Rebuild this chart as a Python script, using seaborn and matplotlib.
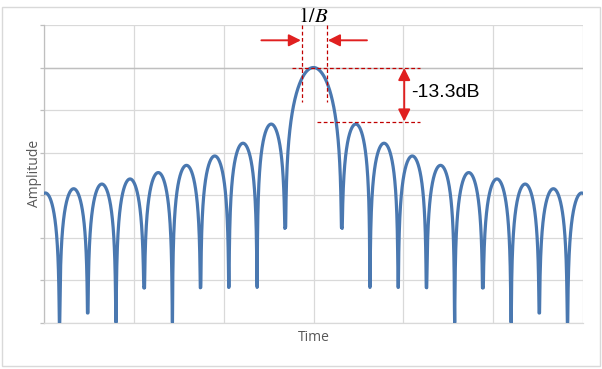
import numpy as np
import pandas as pd
import matplotlib
matplotlib.use("Agg")
import matplotlib.pyplot as plt
import seaborn as sns
from matplotlib.patches import Rectangle

# nulls of the compressed pulse (right half, left half is a mirror)
null_time = [3.14, 6.28, 9.42, 12.57, 15.71, 18.85, 21.99, 25.13, 28.27, 31.42]
null_db = [-37.6, -51.7, -51.7, -51.7, -60.0, -51.7, -60.0, -57.7, -60.0, -60.0]
# peak of each side lobe between two nulls, going outward
sidelobe_db = [-13.3, -17.8, -20.8, -23.0, -24.7, -26.2, -27.4, -28.5, -29.5]
mainlobe_db = 0.0

x_ticks = [-30, -20, -10, 0, 10, 20, 30]
y_ticks = [10, 0, -10, -20, -30, -40, -50, -60]

blue = "#4A78B0"
red = "#E02020"
dark_red = "#C00000"


def lobe(t0, t1, peak, d0, d1, n=300):
    # one arch between two nulls, held at the null depth seen on the chart
    u = np.linspace(0, 1, n)
    arch = 20 * np.log10(np.clip(np.sin(np.pi * u), 1e-9, None))
    floor = d0 + (d1 - d0) * u
    return t0 + (t1 - t0) * u, np.maximum(peak + arch, floor)


# main lobe
u = np.linspace(-1, 1, 600)
main_t = u * null_time[0]
main_db = np.maximum(mainlobe_db + 20 * np.log10(np.clip(np.abs(np.sinc(u)), 1e-9, None)), null_db[0])

right_t, right_db = [], []
for i, peak in enumerate(sidelobe_db):
    t, d = lobe(null_time[i], null_time[i + 1], peak, null_db[i], null_db[i + 1])
    right_t.append(t)
    right_db.append(d)
right_t = np.concatenate(right_t)
right_db = np.concatenate(right_db)

df = pd.DataFrame({
    "Time": np.concatenate([-right_t[::-1], main_t, right_t]),
    "Amplitude": np.concatenate([right_db[::-1], main_db, right_db]),
})

sns.set_theme(style="whitegrid")
plt.rcParams["font.family"] = ["Open Sans", "DejaVu Sans"]
plt.rcParams["mathtext.fontset"] = "stix"

fig = plt.figure(figsize=(6.02, 3.69), dpi=100)
ax = fig.add_axes([44 / 602, 1 - 322.7 / 369, 539 / 602, 297.7 / 369])

ax.axhline(0, color="#BFBFBF", lw=1.0, zorder=0.6)
sns.lineplot(data=df, x="Time", y="Amplitude", sort=False, estimator=None,
             color=blue, lw=2.3, ax=ax, zorder=3,
             solid_capstyle="round", solid_joinstyle="round")

ax.set_xlim(-30, 30)
ax.set_ylim(-60, 10)
ax.set_xticks(x_ticks)
ax.set_yticks(y_ticks)
ax.grid(True, color="#D9D9D9", lw=0.9)
ax.tick_params(axis="both", labelleft=False, labelbottom=False)
ax.tick_params(axis="y", left=True, length=3, color="#BFBFBF", width=0.9)
ax.tick_params(axis="x", bottom=False)
for side in ["top", "right"]:
    ax.spines[side].set_visible(False)
ax.spines["left"].set_color("#BFBFBF")
ax.spines["bottom"].set_color("#D9D9D9")
ax.spines["left"].set_linewidth(0.9)
ax.spines["bottom"].set_linewidth(0.9)

ax.set_xlabel("Time", fontsize=10, color="#595959", labelpad=5)
ax.set_ylabel("Amplitude", fontsize=10, color="#595959", labelpad=-1.8)

# 1/B marker
dash = (0, (3, 2))
for xv in [-1.3, 1.5]:
    ax.plot([xv, xv], [9.9, -8.0], color=dark_red, lw=0.9, ls=dash, clip_on=False, zorder=4)
ax.annotate("", xy=(-1.4, 6.4), xytext=(-5.8, 6.4), annotation_clip=False,
            arrowprops=dict(arrowstyle="-|>,head_length=0.6,head_width=0.3", color=red,
                            lw=1.4, mutation_scale=12, shrinkA=0, shrinkB=0))
ax.annotate("", xy=(1.6, 6.4), xytext=(5.95, 6.4), annotation_clip=False,
            arrowprops=dict(arrowstyle="-|>,head_length=0.6,head_width=0.3", color=red,
                            lw=1.4, mutation_scale=12, shrinkA=0, shrinkB=0))
ax.text(0, 11.9, r"$1/B$", ha="center", va="center", fontsize=15, color="black", clip_on=False)

# first side lobe level
ax.plot([-2.4, 11.9], [0, 0], color=dark_red, lw=0.9, ls=dash, zorder=4)
ax.plot([0.4, 11.9], [sidelobe_db[0] + 0.5, sidelobe_db[0] + 0.5], color=dark_red, lw=0.9, ls=dash, zorder=4)
ax.annotate("", xy=(10.1, -0.1), xytext=(10.1, sidelobe_db[0] + 0.6),
            arrowprops=dict(arrowstyle="<|-|>,head_length=0.6,head_width=0.3", color=red,
                            lw=1.4, mutation_scale=12, shrinkA=0, shrinkB=0), zorder=5)
ax.text(10.85, -5.95, "-13.3dB", ha="left", va="center", fontsize=14,
        family=["Liberation Sans", "DejaVu Sans"], color="black")

fig.add_artist(Rectangle((2 / 602, 1 - 366 / 369), 598 / 602, 359 / 369,
                         transform=fig.transFigure, fill=False, ec="#D9D9D9", lw=1.0))

fig.savefig("out.png", dpi=100)
